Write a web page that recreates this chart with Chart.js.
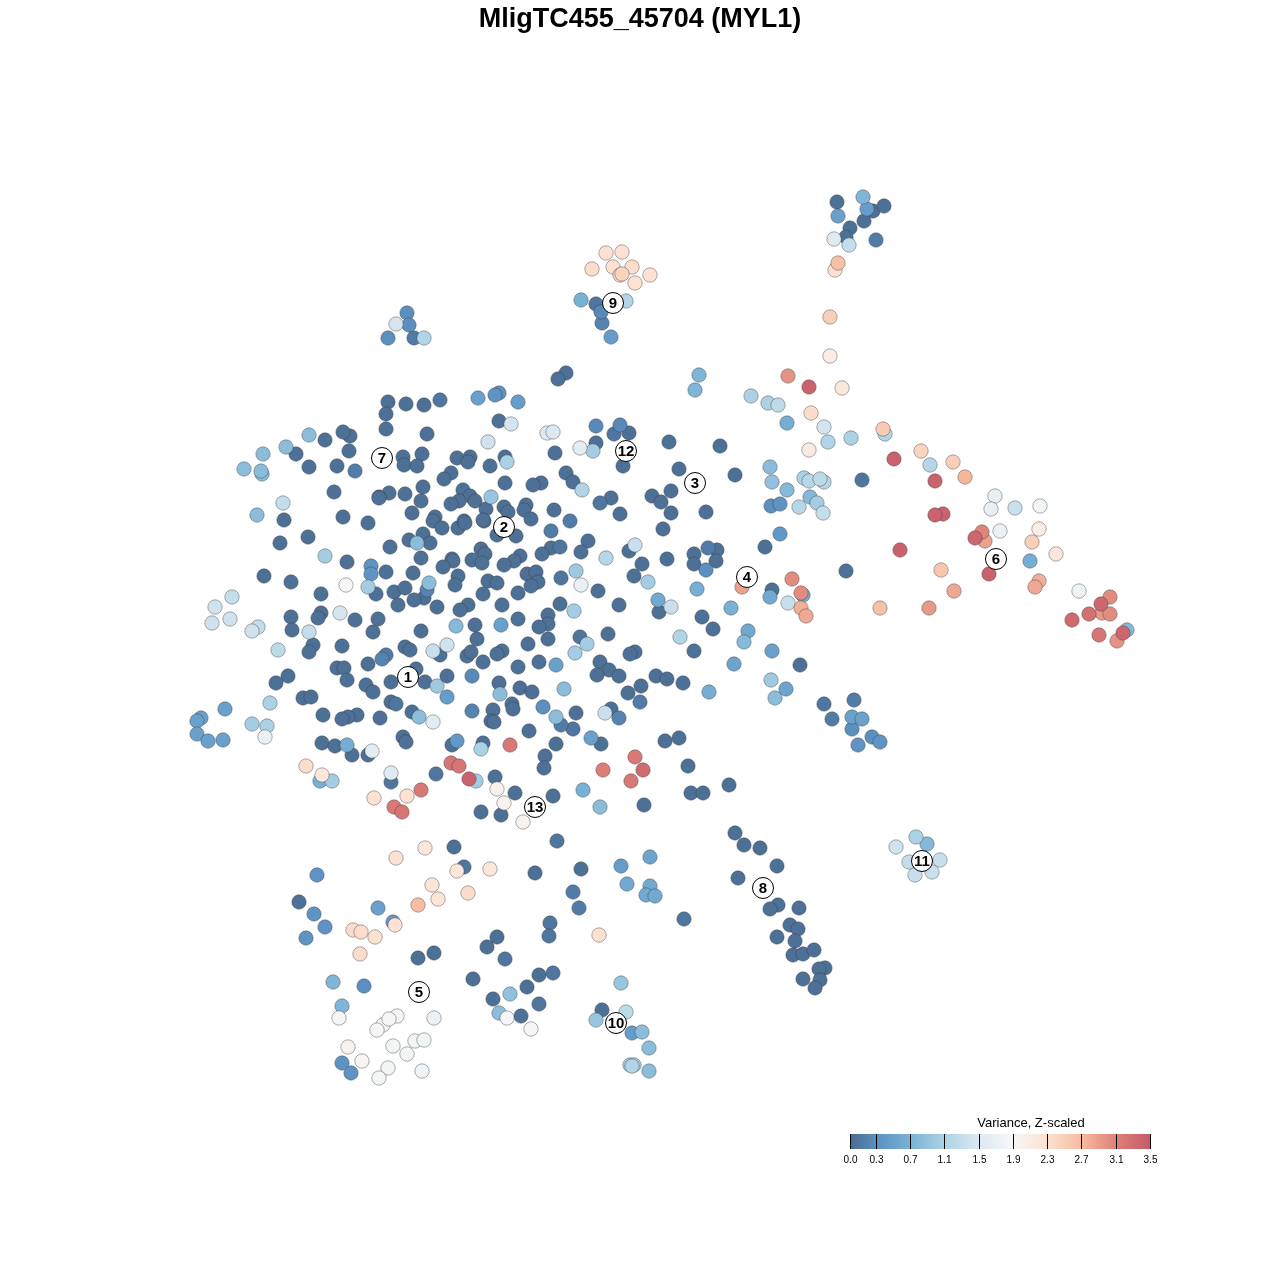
<!DOCTYPE html>
<html>
<head>
<meta charset="utf-8">
<title>MligTC455_45704 (MYL1)</title>
<script src="https://cdn.jsdelivr.net/npm/chart.js@4"></script>
<style>
  html, body { margin: 0; padding: 0; background: #fff; }
  canvas { display: block; }
</style>
</head>
<body>
<canvas id="tsne" width="1280" height="1280"></canvas>
<script>
// each cell: [tsne x, tsne y, variance]
const cellsNorthWest = [
  [388,402,.05],[406,404,.05],[424,405,.05],[440,400,.1],[478,398,.5],[386,414,.05],[386,429,.05],[427,434,.05],
  [309,435,.85],[325,440,.05],[350,436,.05],[343,432,.05],[286,447,.85],[263,454,.85],[296,454,.05],[349,451,.05],
  [244,469,.85],[262,474,.85],[261,471,.85],[309,467,.05],[337,466,.05],[355,471,.15],[403,457,.05],[404,465,.05],
  [422,454,.05],[417,466,.05],[457,458,.05],[470,457,.05],[468,462,.05],[451,473,.05],[444,479,.05],[334,492,.05],
  [389,493,.05],[379,497,.05],[379,498,.05],[405,494,.05],[423,487,.05],[421,501,.05],[463,490,.05],[470,496,.05],
  [459,501,.05],[451,504,.05],[475,501,.05],[283,503,1.3],[257,515,.85],[284,520,.05],[343,517,.05],[368,523,.05],
  [412,513,.05],[435,517,.05],[433,521,.05],[442,528,.05],[458,528,.05],[464,521,.05],[465,523,.05],[308,537,.05],
  [280,543,.05],[390,547,.05],[409,540,.05],[423,534,.05],[417,543,.85],[430,543,.05],[421,558,.05],[452,559,.05],
  [453,561,.05],[443,567,.05],[472,560,.05],[325,556,1.05],[347,562,.05],[371,566,.35],[371,574,.35],[386,572,.05],
  [413,573,.05],[264,576,.05],[291,582,.05],[346,585,1.9],[368,587,1.05],[376,594,.05],[394,592,.05],[405,588,.05],
  [429,583,.85],[427,590,.2],[424,598,.05],[414,600,.05],[398,605,.05],[437,607,.05],[458,576,.05],[455,585,.05],
  [468,605,.05],[460,610,.05],[321,594,.05],[232,597,1.3],[215,607,1.4],[230,619,1.4],[212,623,1.4],[291,617,.05],
  [321,613,.05],[318,618,.05],[340,613,1.45],[355,620,.05],[378,619,.05]
];
const cellsSouthWest = [
  [292,630,.05],[373,632,.05],[456,626,.8],[475,625,.05],[421,631,.05],[477,639,.05],[258,627,1.3],[252,631,1.4],
  [309,632,1.3],[278,650,1.25],[313,645,.05],[309,652,.05],[342,646,.05],[405,647,.05],[410,650,.05],[386,655,.15],
  [382,659,.2],[368,664,.05],[433,651,1.35],[447,645,1.4],[440,655,.05],[467,656,.05],[471,652,.05],[337,668,.05],
  [344,668,.05],[347,680,.05],[416,669,.05],[391,682,.05],[366,685,.05],[373,692,.05],[425,682,.05],[447,676,.05],
  [472,676,.25],[437,686,1.0],[447,697,.45],[288,676,.05],[276,683,.05],[303,698,.05],[311,697,.05],[270,703,1.1],
  [391,702,.05],[396,704,.1],[472,711,.2],[323,715,.05],[357,715,.05],[348,717,.05],[342,719,.05],[380,718,.05],
  [412,712,.05],[419,717,.85],[433,722,1.6],[225,709,.5],[201,718,.5],[197,721,.5],[197,734,.5],[208,741,.5],
  [223,740,.5],[252,724,1.05],[267,726,1.1],[265,737,1.75],[403,737,.05],[406,742,.05],[322,743,.05],[335,746,.05],
  [347,745,.65],[352,755,.05],[368,755,.05],[372,751,1.6],[452,745,.05],[457,741,.4],[306,766,2.35],[322,775,2.2],
  [320,781,.7],[332,781,1.05],[391,773,1.55],[391,782,.1],[436,774,.1],[451,763,3.25],[459,766,3.25],[469,779,3.45],
  [476,781,1.05],[421,790,3.2],[407,796,2.3],[374,798,2.3],[394,807,3.2],[402,812,3.25]
];
const cellsNorthCentre = [
  [566,373,.05],[558,379,.05],[499,393,.35],[495,395,.35],[518,402,.45],[499,421,.05],[511,424,1.45],[547,433,1.5],
  [553,432,1.5],[596,426,.25],[620,425,.25],[614,434,.1],[629,433,.05],[488,442,1.4],[596,443,.05],[580,448,1.6],
  [593,451,1.05],[555,453,.05],[669,442,.05],[720,446,.05],[505,457,.05],[507,462,1.1],[490,466,.05],[623,466,.05],
  [679,469,.05],[566,473,.05],[505,483,.05],[573,482,.05],[541,483,.05],[533,485,.05],[582,490,1.15],[735,475,.05],
  [671,491,.05],[652,496,.05],[661,502,.05],[611,498,.05],[600,503,.1],[491,497,.95],[671,513,.05],[620,514,.05],
  [706,512,.05],[504,507,.05],[508,512,.05],[526,505,.05],[524,510,.05],[486,509,.05],[531,519,.05],[554,510,.05],
  [570,521,.15],[484,521,.05],[483,520,.05],[497,535,.05],[516,536,.05],[551,531,.15],[663,529,.05],[588,541,.05],
  [560,547,.1],[551,548,.05],[542,554,.05],[581,552,.05],[635,545,1.35],[629,551,.05],[606,558,1.2],[765,547,.05],
  [708,548,.15],[717,550,.05],[694,554,.05],[694,564,.05],[716,561,.05],[706,570,.3],[667,559,.05],[642,564,.05],
  [520,556,.05],[514,561,.05],[504,565,.05],[481,549,.05],[485,554,.05],[482,563,.05],[527,574,.05],[536,572,.05],
  [538,582,.05],[531,586,.05],[561,578,.1],[576,571,1.0],[581,585,1.7],[488,581,.05],[497,583,.05],[634,576,.05],
  [648,582,1.05],[697,589,.65],[518,593,.05],[483,594,.05],[598,591,.05],[619,605,.05],[658,600,.6],
  [671,607,1.35],[659,612,.05],[731,608,.7],[502,605,.05],[560,604,.05],[548,615,.05],[574,611,1.05],[518,619,.05],
  [702,617,.05]
];
const cellsSouthCentre = [
  [548,624,.05],[539,627,.05],[501,625,.5],[548,639,.05],[528,644,.05],[502,651,.05],[497,654,.05],[483,662,.05],
  [580,637,.1],[587,644,1.05],[575,653,1.05],[608,634,.05],[713,629,.05],[680,637,1.15],[694,651,.05],[635,652,.05],
  [630,654,.05],[539,662,.05],[556,665,.5],[518,667,.05],[600,662,.05],[609,670,.05],[597,675,.05],[619,676,.05],
  [656,676,.05],[667,679,.05],[683,683,.05],[709,692,.65],[499,683,.05],[500,694,.85],[520,688,.05],[532,692,.05],
  [564,689,.85],[628,693,.05],[641,686,.05],[640,702,.15],[512,704,.05],[513,709,.05],[493,710,.05],[491,721,.05],
  [494,722,.05],[543,707,.3],[576,713,.05],[556,717,.85],[561,725,.15],[573,729,.1],[611,709,.05],[605,713,1.35],
  [619,718,.2],[529,731,.05],[591,738,.5],[601,744,.05],[665,741,.05],[679,738,.05],[556,744,.05],[545,756,.05],
  [544,768,.05],[510,745,3.2],[483,743,.05],[481,749,1.1],[635,757,3.2],[643,770,3.35],[603,770,3.15],[631,781,3.2],
  [688,766,.05],[729,785,.05],[691,793,.05],[703,793,.05],[644,805,.05],[583,790,.7],[600,807,.85],[553,796,.05],
  [515,793,.05],[495,777,.05],[497,789,2.0],[504,803,2.0],[501,815,.05],[481,812,.05],[523,822,2.0]
];
const cellsNorthEast = [
  [837,202,.05],[863,197,.75],[867,209,.45],[873,211,.05],[884,206,.05],[838,216,.5],[864,221,.05],[850,228,.05],
  [846,237,.05],[834,239,1.55],[849,245,1.3],[876,240,.15],[835,270,2.3],[838,263,2.65],[830,317,2.5],[830,356,2.1],
  [699,375,.75],[695,390,.75],[788,376,3.0],[809,387,3.45],[842,388,2.2],[751,396,1.1],[768,403,1.1],[778,405,1.25],
  [811,413,2.35],[787,423,.65],[824,427,1.45],[828,442,1.15],[851,438,1.1],[885,434,1.15],[883,429,2.55],[809,450,2.15],
  [921,451,2.45],[894,459,3.45],[930,465,1.2],[953,462,2.5],[965,477,2.75],[770,467,.85],[772,482,.9],[787,490,.8],
  [771,506,.3],[780,504,.35],[780,534,.4]
];
const cellsEast = [
  [935,481,3.45],[862,480,.1],[804,478,1.1],[809,481,1.2],[820,479,1.25],[824,482,1.2],[810,497,.8],[817,503,1.05],
  [799,507,1.2],[823,513,1.3],[943,514,3.45],[935,515,3.45],[995,496,1.7],[991,509,1.7],[1015,508,1.35],[1040,506,1.85],
  [1039,529,2.1],[1000,531,1.75],[982,532,3.1],[985,541,2.9],[975,538,3.4],[1032,542,2.5],[1056,554,2.2],[1030,561,.65],
  [900,550,3.45],[989,574,3.45],[941,570,2.6],[954,591,2.85],[1039,581,2.8],[1035,587,2.85],[880,608,2.65],[929,608,2.95],
  [1079,591,1.8],[1110,597,3.05],[1101,604,3.4],[1089,614,3.3],[1102,613,2.95],[1110,614,3.05],[1072,620,3.35],
  [1099,635,3.25],[1127,630,.8],[1123,633,3.4],[1117,641,3.0],[846,571,.05],[792,579,3.05],[742,587,2.9],[772,590,.05],
  [770,597,.6],[788,603,1.35],[803,595,.6],[801,593,3.05],[801,608,2.8],[806,616,2.85],[748,631,.6],[744,642,.8],
  [772,651,.5],[734,664,.55],[800,665,.05],[771,680,1.0],[786,689,.55],[775,698,.85],[824,704,.1],[854,700,.15],
  [832,719,.15],[852,717,.5],[862,719,.5],[852,729,.3],[872,737,.3],[880,742,.35],[858,745,.35]
];
const cellsTopClusters = [
  [407,313,.3],[409,325,.3],[396,324,1.45],[388,338,.3],[414,338,.15],[424,338,1.15],[581,300,.7],[596,304,.1],
  [601,312,.25],[602,323,.2],[626,301,1.15],[611,337,.45],[606,253,2.3],[622,252,2.3],[592,269,2.35],[613,267,2.3],
  [632,267,2.35],[620,275,2.4],[622,274,2.45],[650,275,2.3],[635,283,2.3]
];
const cellsSouth = [
  [396,858,2.3],[425,848,2.2],[454,847,.05],[557,841,.1],[317,875,.35],[464,867,.1],[457,871,2.2],[490,869,2.2],
  [535,873,.05],[581,869,.05],[432,885,2.25],[573,892,.15],[299,902,.05],[438,899,2.25],[468,893,2.35],[418,905,2.7],
  [579,908,.15],[378,908,.5],[314,914,.35],[393,922,.4],[395,925,2.3],[325,927,.35],[306,938,.35],[353,930,2.35],
  [361,932,2.35],[375,937,2.3],[550,923,.1],[549,936,.1],[497,937,.05],[487,947,.05],[599,935,2.3],[360,954,2.35],
  [418,958,.05],[434,953,.05],[505,959,.1],[333,982,.75],[364,986,.3],[473,979,.05],[539,975,.05],[553,973,.1],
  [527,987,.05],[510,994,.9],[493,999,.05],[342,1006,.75],[539,1004,.1],[339,1018,1.95],[434,1018,1.75],[397,1016,1.9],
  [389,1019,1.9],[383,1025,1.85],[377,1030,1.95],[499,1013,.85],[507,1018,1.9],[521,1016,.05],[531,1029,1.9],
  [348,1047,2.0],[393,1046,1.85],[415,1041,1.85],[424,1040,1.85],[407,1054,1.85],[362,1061,1.95],[342,1063,.35],
  [351,1073,.35],[388,1068,1.85],[422,1071,1.8],[379,1078,1.85]
];
const cellsSouthEast = [
  [735,833,.05],[744,845,.05],[760,848,.05],[777,866,.05],[738,878,.05],[778,905,.05],[770,909,.05],[799,908,.05],
  [790,925,.05],[798,929,.05],[777,937,.05],[795,941,.05],[793,955,.05],[803,954,.05],[814,950,.05],[825,968,.05],
  [819,969,.05],[803,979,.05],[820,980,.05],[815,988,.05],[684,919,.1],[621,866,.45],[650,857,.55],[627,884,.6],
  [650,886,.6],[646,895,.6],[655,896,.6],[621,983,.95],[626,1012,1.25],[602,1010,.05],[596,1020,.95],[632,1033,.45],
  [642,1032,.85],[649,1048,.85],[630,1065,1.05],[634,1065,1.05],[632,1066,1.15],[649,1071,.85],[916,837,1.1],
  [927,844,.8],[896,847,1.4],[909,862,1.3],[940,860,1.35],[915,875,1.35],[932,872,1.35]
];

const clusterNames = ["1","2","3","4","5","6","7","8","9","10","11","12","13"];
const clusterX = [408,504,695,747,419,996,382,763,613,616,922,626,535];
const clusterY = [677,527,483,577,992,559,458,888,303,1023,861,451,807];

const title = "MligTC455_45704 (MYL1)";
const legendTitle = "Variance, Z-scaled";
const legendLabels = ["0.0","0.3","0.7","1.1","1.5","1.9","2.3","2.7","3.1","3.5"];
const legendValues = [0,.31,.71,1.11,1.52,1.92,2.32,2.72,3.13,3.53];
const legendColors = ["#4a6a8f","#5b90c2","#79b2d6","#acd2e5","#dde9f2","#f7f7f7","#fde0d0","#f6bb9f","#dd8078","#c45a6a"];

const toRgb = hex => [1, 3, 5].map(i => parseInt(hex.slice(i, i + 2), 16));

function colorFor(value) {
    let i = 0;
    while (i < legendValues.length - 2 && value > legendValues[i + 1]) i++;
    const t = Math.min(1, Math.max(0, (value - legendValues[i]) / (legendValues[i + 1] - legendValues[i])));
    const a = toRgb(legendColors[i]);
    const b = toRgb(legendColors[i + 1]);
    const c = a.map((v, k) => Math.round(v + (b[k] - v) * t));
    return `rgb(${c[0]},${c[1]},${c[2]})`;
}

// highest values are painted last, as in the original plot
const cells = [].concat(cellsNorthWest, cellsSouthWest, cellsNorthCentre, cellsSouthCentre,
    cellsNorthEast, cellsEast, cellsTopClusters, cellsSouth, cellsSouthEast)
    .sort((a, b) => a[2] - b[2]);

// cluster numbers on top of the white circles, colour bar in the corner
const overlay = {
    id: "overlay",
    afterDatasetsDraw(chart) {
        const { ctx, scales } = chart;
        ctx.save();
        ctx.fillStyle = "#000";
        ctx.textAlign = "center";
        ctx.textBaseline = "middle";
        ctx.font = 'bold 15px "Liberation Sans", Arial, sans-serif';
        clusterNames.forEach((name, i) => {
            ctx.fillText(name, scales.x.getPixelForValue(clusterX[i]), scales.y.getPixelForValue(clusterY[i]) + 0.5);
        });

        const barLeft = 850, barTop = 1134, barHeight = 15, pxPerUnit = 85.1;
        const barWidth = legendValues[legendValues.length - 1] * pxPerUnit;
        const grad = ctx.createLinearGradient(barLeft, 0, barLeft + barWidth, 0);
        legendValues.forEach((v, i) => grad.addColorStop(v / legendValues[legendValues.length - 1], legendColors[i]));
        ctx.fillStyle = grad;
        ctx.fillRect(barLeft, barTop, barWidth, barHeight);

        ctx.strokeStyle = "#000";
        ctx.lineWidth = 1;
        ctx.fillStyle = "#000";
        ctx.font = '10px "Liberation Sans", Arial, sans-serif';
        legendValues.forEach((v, i) => {
            const px = Math.round(barLeft + v * pxPerUnit) + 0.5;
            ctx.beginPath();
            ctx.moveTo(px, barTop);
            ctx.lineTo(px, barTop + barHeight);
            ctx.stroke();
            ctx.fillText(legendLabels[i], px, 1160);
        });
        ctx.font = '13px "Liberation Sans", Arial, sans-serif';
        ctx.fillText(legendTitle, 1031, 1123);
        ctx.restore();
    }
};

new Chart(document.getElementById("tsne").getContext("2d"), {
    type: "scatter",
    data: {
        datasets: [{
            label: "clusters",
            order: 0,
            data: clusterX.map((x, i) => ({ x: x, y: clusterY[i] })),
            backgroundColor: "#ffffff",
            borderColor: "#000000",
            borderWidth: 1,
            pointRadius: 10.5,
        }, {
            label: "cells",
            order: 1,
            data: cells.map(c => ({ x: c[0], y: c[1] })),
            backgroundColor: cells.map(c => colorFor(c[2])),
            borderColor: "rgba(60,60,60,0.42)",
            borderWidth: 1,
            pointRadius: 7.2,
        }],
    },
    options: {
        responsive: false,
        animation: false,
        layout: { padding: 0, autoPadding: false },
        plugins: {
            legend: { display: false },
            tooltip: { enabled: false },
            title: {
                display: true,
                text: title,
                color: "#000",
                font: { family: '"Liberation Sans", Arial, sans-serif', size: 27, weight: "bold", lineHeight: "30px" },
                padding: { top: 5, bottom: 1 },
            },
        },
        scales: {
            x: { display: false, min: 0, max: 1280 },
            y: { display: false, min: 36, max: 1280, reverse: true },
        },
    },
    plugins: [overlay],
});
</script>
</body>
</html>
